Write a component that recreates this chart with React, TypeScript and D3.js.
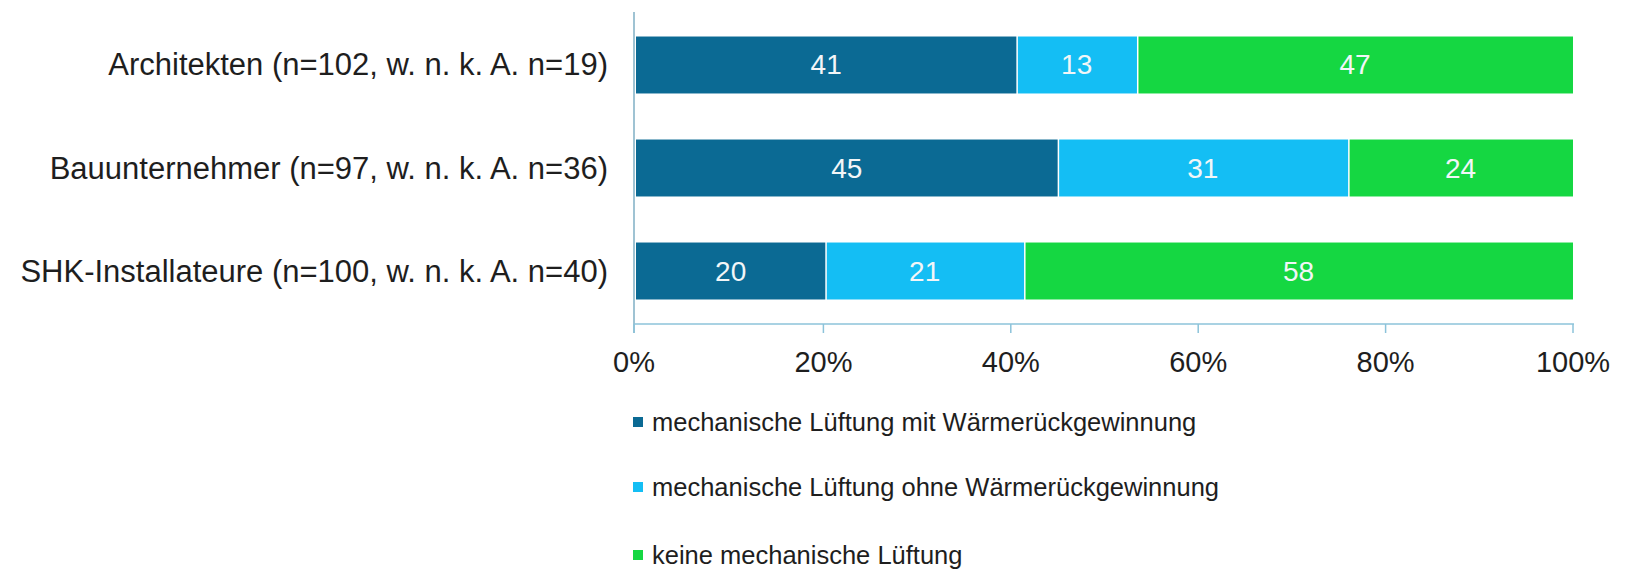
import React from "react";
import * as d3 from "d3";

const categories = [
  "Architekten (n=102, w. n. k. A. n=19)",
  "Bauunternehmer (n=97, w. n. k. A. n=36)",
  "SHK-Installateure (n=100, w. n. k. A. n=40)",
];
const seriesNames = [
  "mechanische Lüftung mit Wärmerückgewinnung",
  "mechanische Lüftung ohne Wärmerückgewinnung",
  "keine mechanische Lüftung",
];
const mitWRG = [41, 45, 20];
const ohneWRG = [13, 31, 21];
const keine = [47, 24, 58];
const tickValues = [0, 0.2, 0.4, 0.6, 0.8, 1];
const colors = ["#0B6A94", "#14BEF4", "#15D742"];

const W = 1626;
const H = 572;
const FONT = "'Liberation Sans', Arial, Helvetica, sans-serif";

export default function App() {
  const rows = categories.map((c, i) => ({
    cat: c,
    s0: mitWRG[i],
    s1: ohneWRG[i],
    s2: keine[i],
  }));
  const keys = ["s0", "s1", "s2"];
  const stacked = d3
    .stack<any>()
    .keys(keys)
    .offset(d3.stackOffsetExpand)(rows);

  const x = d3.scaleLinear().domain([0, 1]).range([636, 1573]);
  const y = d3
    .scaleBand<string>()
    .domain(categories)
    .range([12, 324])
    .paddingInner(0.447)
    .paddingOuter(0.238);

  const axisX = x(0) - 2;
  const axisY = 324;
  const legendY = [422, 487, 555];

  return (
    <svg
      width={W}
      height={H}
      style={{ position: "absolute", left: 0, top: 0, background: "#fff" }}
      fontFamily={FONT}
    >
      {/* bars */}
      {stacked.map((layer, si) =>
        layer.map((d, ci) => {
          const x0 = x(d[0]);
          const x1 = x(d[1]);
          const yy = y(categories[ci])!;
          const val = (rows[ci] as any)[keys[si]];
          return (
            <g key={`${si}-${ci}`}>
              <rect
                x={x0 + (si > 0 ? 1.5 : 0)}
                y={yy}
                width={x1 - x0 - (si > 0 ? 1.5 : 0)}
                height={y.bandwidth()}
                fill={colors[si]}
              />
              <text
                x={(x0 + x1) / 2}
                y={yy + y.bandwidth() / 2}
                textAnchor="middle"
                dominantBaseline="central"
                fontSize={28}
                fill="#F2F6F8"
              >
                {val}
              </text>
            </g>
          );
        })
      )}

      {/* axes */}
      <line x1={axisX} x2={axisX} y1={12} y2={axisY + 9} stroke="#7FAFC4" strokeWidth={1.5} />
      <line x1={axisX} x2={x(1) + 1} y1={axisY} y2={axisY} stroke="#8CC3DA" strokeWidth={1.5} />
      {tickValues.map((t) => (
        <g key={t}>
          <line
            x1={t === 0 ? axisX : x(t)}
            x2={t === 0 ? axisX : x(t)}
            y1={axisY}
            y2={axisY + 9}
            stroke="#8CC3DA"
            strokeWidth={1.5}
          />
          <text
            x={t === 0 ? axisX : x(t)}
            y={372}
            textAnchor="middle"
            fontSize={29}
            fill="#1E1E1E"
          >
            {d3.format(".0%")(t)}
          </text>
        </g>
      ))}

      {/* category labels */}
      {categories.map((c) => (
        <text
          key={c}
          x={608}
          y={y(c)! + y.bandwidth() / 2}
          textAnchor="end"
          dominantBaseline="central"
          fontSize={31}
          fill="#1E1E1E"
        >
          {c}
        </text>
      ))}

      {/* legend */}
      {seriesNames.map((n, i) => (
        <g key={n}>
          <rect x={633} y={legendY[i] - 5} width={10} height={10} fill={colors[i]} />
          <text
            x={652}
            y={legendY[i]}
            dominantBaseline="central"
            fontSize={25.5}
            fill="#1E1E1E"
          >
            {n}
          </text>
        </g>
      ))}
    </svg>
  );
}
